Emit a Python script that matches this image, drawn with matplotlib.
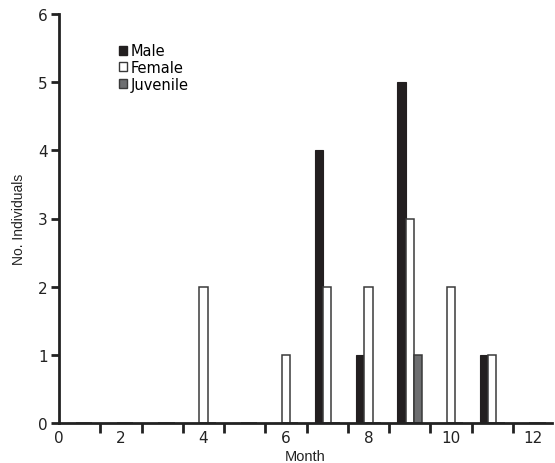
import numpy as np
import matplotlib
matplotlib.use('Agg')
import matplotlib.pyplot as plt
from matplotlib.patches import Patch

# Data
months = np.arange(1, 13)
male = [0, 0, 0, 0, 0, 0, 4, 1, 5, 0, 1, 0]
female = [0, 0, 0, 2, 0, 1, 2, 2, 3, 2, 1, 0]
juvenile = [0, 0, 0, 0, 0, 0, 0, 0, 1, 0, 0, 0]
tick_labels = ['0', '2', '4', '6', '8', '10', '12']

plt.rcParams['font.family'] = 'DejaVu Sans'

fig = plt.figure(figsize=(5.55, 4.64), dpi=100)
ax = fig.add_axes([59 / 555, 40 / 464, 493 / 555, 409 / 464])

w = 0.2
ax.bar(months - w, male, width=w, color='#231f20', edgecolor='#231f20', linewidth=0.8, zorder=2)
ax.bar(months, female, width=w, color='white', edgecolor='#3a3a3a', linewidth=1.1, zorder=2)
ax.bar(months + w, juvenile, width=w, color='#6d6e70', edgecolor='#3a3a3a', linewidth=1.1, zorder=2)

ax.set_xlim(0.5, 12.45)
ax.set_ylim(0, 6)

# boundary ticks between months, labels at month centres
ax.set_xticks(np.arange(1.5, 12.5, 1), minor=True)
ax.set_xticks([0.5, 2, 4, 6, 8, 10, 12])
ax.set_xticklabels(tick_labels, fontsize=11, color='#222222')
ax.tick_params(axis='x', which='major', length=0, pad=5)
ax.tick_params(axis='x', which='minor', length=7, width=2, direction='out', color='#222222')
ax.set_yticks(range(0, 7))
ax.tick_params(axis='y', length=6, width=2, labelsize=11, labelcolor='#222222', color='#222222', pad=2)

for s in ['top', 'right']:
    ax.spines[s].set_visible(False)
for s in ['left', 'bottom']:
    ax.spines[s].set_linewidth(2)
    ax.spines[s].set_color('#222222')

ax.set_xlabel('Month', fontsize=10.5, family='Liberation Sans', labelpad=3, color='#222222')
ax.set_ylabel('No. Individuals', fontsize=10, family='Liberation Sans', labelpad=9, color='#222222')

handles = [Patch(facecolor='#231f20', edgecolor='#231f20'),
           Patch(facecolor='white', edgecolor='#3a3a3a'),
           Patch(facecolor='#6d6e70', edgecolor='#3a3a3a')]
ax.legend(handles, ['Male', 'Female', 'Juvenile'], loc='upper left',
          bbox_to_anchor=(112 / 555, 1 - 37 / 464), bbox_transform=fig.transFigure,
          frameon=False, fontsize=10.5, handlelength=0.55, handleheight=0.55,
          handletextpad=0.25, labelspacing=0.12, borderpad=0)

fig.savefig('out.png', dpi=100)
